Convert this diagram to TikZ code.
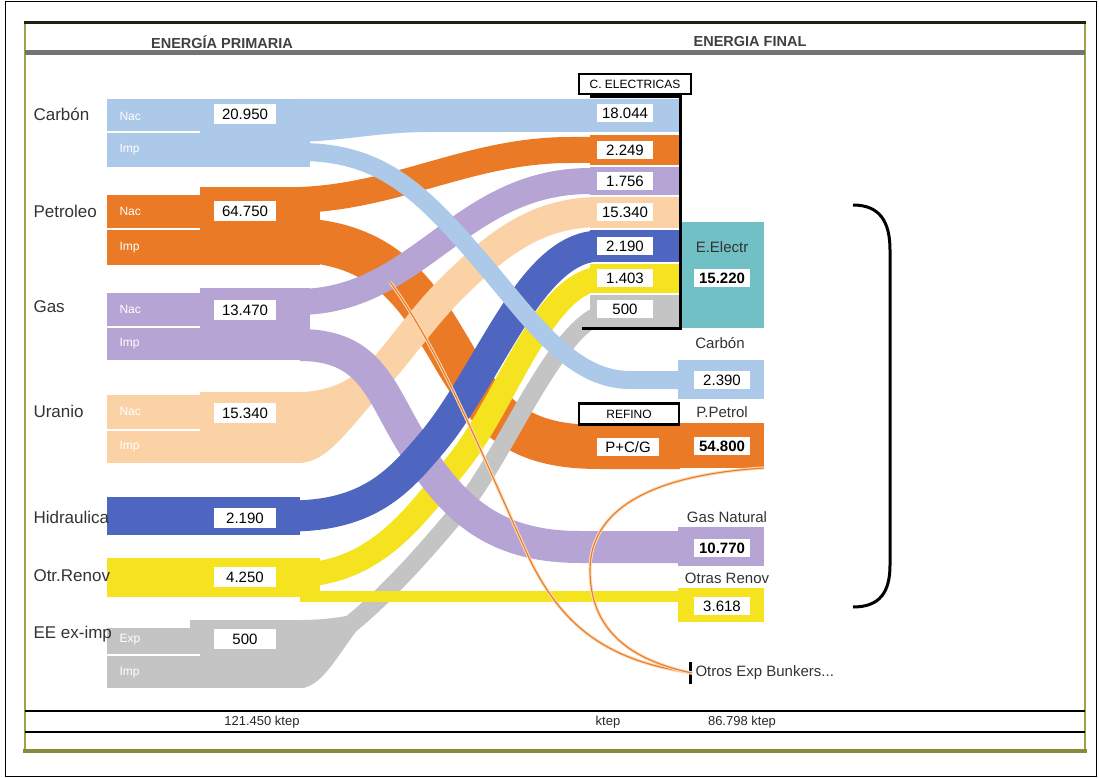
\documentclass[tikz,border=0pt]{standalone}
\usepackage{fontspec}
\setmainfont{Liberation Sans}
\definecolor{carb}{RGB}{172,201,233}
\definecolor{petr}{RGB}{234,122,38}
\definecolor{gasn}{RGB}{181,164,212}
\definecolor{uran}{RGB}{250,210,166}
\definecolor{hidr}{RGB}{79,102,192}
\definecolor{renv}{RGB}{246,227,32}
\definecolor{eeim}{RGB}{196,196,196}
\definecolor{elec}{RGB}{112,192,198}
\definecolor{marco}{RGB}{160,162,72}

\begin{document}
\begin{tikzpicture}[x=1pt, y=-1pt,
  flow/.style={line cap=butt},
  srclab/.style={anchor=west, text=black!80, font=\fontsize{17}{19}\selectfont},
  sublab/.style={anchor=west, text=white, font=\fontsize{12}{14}\selectfont},
  srcval/.style={fill=white, inner sep=1pt, minimum width=62, minimum height=20, font=\fontsize{15}{17}\selectfont},
  colval/.style={srcval, minimum width=56, minimum height=18},
  colbold/.style={colval, font=\fontsize{15}{17}\selectfont\bfseries},
  finlab/.style={text=black!80, font=\fontsize{15}{17}\selectfont},
  headlab/.style={text=black!75, font=\fontsize{14.5}{16}\selectfont\bfseries},
  footlab/.style={text=black!85, font=\fontsize{13}{15}\selectfont},
  tagbox/.style={draw=black, line width=2.5, fill=white, inner sep=1pt, font=\fontsize{12}{14}\selectfont},
  bunkline/.style={draw=petr, line width=1.1, preaction={draw=uran!80, line width=3.2}}]
\useasboundingbox (0,0) rectangle (1099,778);

% marcos
\draw[line width=1] (5,2) rectangle (1096,776);
\draw[marco, line width=1.5] (25,22) -- (25,751);
\draw[marco, line width=2] (1085,22) -- (1085,751);
\draw[marco!85!black, line width=4] (23,751) -- (1087,751);
\draw[black!80!marco, line width=3] (24,23) -- (1086,23);
\draw[black!55, line width=5] (25,53) -- (1085,53);
\draw[line width=2.5] (25,711) -- (1085,711);
\draw[line width=2.5] (25,732) -- (1085,732);
\node[headlab] (hprim) at (222,42) {ENERGÍA PRIMARIA};
\node[headlab] (hfin) at (750,42) {ENERGIA FINAL};

% bloques de energia primaria
\fill[carb] (107,99) rectangle (310,167);
\fill[petr] (107,195) rectangle (200,265);
\fill[petr] (200,187) rectangle (320,265);
\fill[gasn] (107,293) rectangle (200,360);
\fill[gasn] (200,288) rectangle (310,360);
\fill[uran] (107,395) rectangle (200,463);
\fill[uran] (200,392) rectangle (300,463);
\fill[uran] (298,392) .. controls (330,392) and (350,380) .. (368,364) -- (390,384) .. controls (350,425) and (330,463) .. (298,463) -- cycle;
\fill[hidr] (107,497) rectangle (300,535);
\fill[renv] (107,558) rectangle (320,597);
\fill[eeim] (107,628) rectangle (190,688);
\fill[eeim] (190,620) rectangle (305,688);
\fill[eeim] (300,620) .. controls (320,620) and (335,618) .. (346,616) -- (357,630) .. controls (335,660) and (320,688) .. (300,688) -- cycle;

% extremos de los flujos
\coordinate (cb-s) at (300,152);  \coordinate (cb-t) at (680,380);
\coordinate (peU-s) at (300,200); \coordinate (peU-t) at (680,150);
\coordinate (peD-s) at (300,240); \coordinate (peD-t) at (680,447);
\coordinate (gaU-s) at (300,302); \coordinate (gaU-t) at (680,181);
\coordinate (gaD-s) at (300,345); \coordinate (gaD-t) at (680,547);
\coordinate (ur-s) at (300,425);  \coordinate (ur-t) at (680,212);
\coordinate (hi-s) at (290,516);  \coordinate (hi-t) at (680,246);
\coordinate (reU-s) at (300,575); \coordinate (reU-t) at (680,278);
\coordinate (reD-s) at (300,596); \coordinate (reD-t) at (680,596);
\coordinate (ee-s) at (300,660);  \coordinate (ee-t) at (680,311);

% flujos
\draw[flow, petr, line width=44] (peD-s) .. controls (390,245) and (420,300) .. (450,350) .. controls (490,420) and (520,447) .. (600,447) -- (peD-t);
\draw[flow, uran, line width=30] (ur-s) .. controls (360,420) and (400,340) .. (450,290) .. controls (500,240) and (540,212) .. (600,212) -- (ur-t);
\draw[flow, eeim, line width=18] (ee-s) .. controls (360,625) and (410,570) .. (460,510) .. controls (510,450) and (560,311) .. (615,311) -- (ee-t);
\draw[flow, renv, line width=24] (reU-s) .. controls (380,572) and (420,510) .. (460,460) .. controls (510,395) and (545,278) .. (605,278) -- (reU-t);
\draw[flow, gasn, line width=32] (gaD-s) .. controls (370,345) and (380,390) .. (410,440) .. controls (450,505) and (490,547) .. (580,547) -- (gaD-t);
\draw[flow, hidr, line width=31] (hi-s) .. controls (370,516) and (400,480) .. (430,445) .. controls (490,375) and (530,246) .. (600,246) -- (hi-t);
\draw[flow, petr, line width=26] (peU-s) .. controls (400,196) and (470,150) .. (570,150) -- (peU-t);
\draw[flow, gasn, line width=26] (gaU-s) .. controls (420,300) and (460,181) .. (590,181) -- (gaU-t);
\fill[carb] (300,99) -- (680,99) -- (680,132) -- (430,132) .. controls (380,132) and (350,140) .. (300,142) -- cycle;
\draw[flow, carb, line width=18] (cb-s) .. controls (380,152) and (420,190) .. (480,260) .. controls (530,318) and (570,380) .. (630,380) -- (cb-t);
\draw[flow, renv, line width=11] (reD-s) -- (reD-t);

% columna de centrales
\fill[carb] (590,99) rectangle (680,132);
\fill[petr] (590,135) rectangle (680,165);
\fill[gasn] (590,167) rectangle (680,195);
\fill[uran] (590,197) rectangle (680,228);
\fill[hidr] (590,230) rectangle (680,262);
\fill[renv] (590,264) rectangle (680,293);
\fill[eeim] (590,295) rectangle (680,327);
\fill[elec] (680,222) rectangle (764,328);
\draw[line width=3] (590,97) -- (680,97) -- (680,328) -- (582,328);
\node[tagbox, minimum width=112, minimum height=20] (elec) at (635,84) {C. ELECTRICAS};

% energia final
\fill[carb] (678,360) rectangle (764,399);
\fill[petr] (678,423) rectangle (764,468);
\fill[gasn] (678,527) rectangle (764,566);
\fill[renv] (678,588) rectangle (764,622);
\node[tagbox, minimum width=100, minimum height=21] (refino) at (629,414) {REFINO};

\node[finlab] (lele) at (722,247) {E.Electr};
\node[finlab] (lcarb) at (720,343) {Carbón};
\node[finlab] (lpet) at (722,412) {P.Petrol};
\node[finlab] (lgas) at (727,517) {Gas Natural};
\node[finlab] (lren) at (727,578) {Otras Renov};
\node[finlab, anchor=west] (lbunk) at (692,673) {Otros Exp Bunkers...};
\draw[line width=3] (lbunk.west) ++(-2,-11) -- ++(0,22);

\coordinate (bkA) at (390,282);
\coordinate (bkB) at (764,468);
\draw[bunkline] (bkA) .. controls (440,350) and (480,450) .. (530,560) .. controls (560,620) and (600,660) .. (lbunk.west);
\draw[bunkline] (bkB) .. controls (650,475) and (590,510) .. (590,570) .. controls (590,630) and (630,660) .. (lbunk.west);

\draw[line width=3] (853,205) .. controls (880,205) and (890,222) .. (890,250) -- (890,565) .. controls (890,592) and (880,607) .. (853,607);

% etiquetas de origen
\node[srclab] (ncarb) at (30,114) {Carbón};
\node[srclab] (npetr) at (30,211) {Petroleo};
\node[srclab] (ngas) at (30,307) {Gas};
\node[srclab] (nuran) at (30,411) {Uranio};
\node[srclab] (nhidr) at (30,517) {Hidraulica};
\node[srclab] (nrenv) at (30,576) {Otr.Renov};
\node[srclab] (neeim) at (30,634) {EE ex-imp};

\foreach \ys in {132,229,327,430,655}
  \draw[white, line width=2.5] (107,\ys) -- (200,\ys);
\node[sublab] (cbn) at (116,116) {Nac};
\node[sublab] (cbi) at (116,150) {Imp};
\node[sublab] (pen) at (116,211) {Nac};
\node[sublab] (pei) at (116,248) {Imp};
\node[sublab] (gan) at (116,309) {Nac};
\node[sublab] (gai) at (116,344) {Imp};
\node[sublab] (urn) at (116,411) {Nac};
\node[sublab] (uri) at (116,447) {Imp};
\node[sublab] (eex) at (116,640) {Exp};
\node[sublab] (eei) at (116,673) {Imp};

\node[srcval] (vcarb) at (245,114) {20.950};
\node[srcval] (vpetr) at (245,211) {64.750};
\node[srcval] (vgas) at (245,310) {13.470};
\node[srcval] (vuran) at (245,413) {15.340};
\node[srcval] (vhidr) at (245,518) {2.190};
\node[srcval] (vrenv) at (245,577) {4.250};
\node[srcval] (veeim) at (245,639) {500};

% valores de la columna
\node[colval] (ecarb) at (625,113) {18.044};
\node[colval] (epetr) at (625,150) {2.249};
\node[colval] (egas) at (625,181) {1.756};
\node[colval] (euran) at (625,212) {15.340};
\node[colval] (ehidr) at (625,246) {2.190};
\node[colval] (erenv) at (625,278) {1.403};
\node[colval] (eeeim) at (625,309) {500};

\node[colbold] (fele) at (722,278) {15.220};
\node[colval] (fcarb) at (722,380) {2.390};
\node[colval, minimum width=62] (fpcg) at (628,447) {P+C/G};
\node[colbold] (fpet) at (722,446) {54.800};
\node[colbold] (fgas) at (722,548) {10.770};
\node[colval] (fren) at (722,606) {3.618};

\node[footlab] (tprim) at (262,722) {121.450 ktep};
\node[footlab] (tmid) at (608,722) {ktep};
\node[footlab] (tfin) at (742,722) {86.798 ktep};
\end{tikzpicture}
\end{document}
